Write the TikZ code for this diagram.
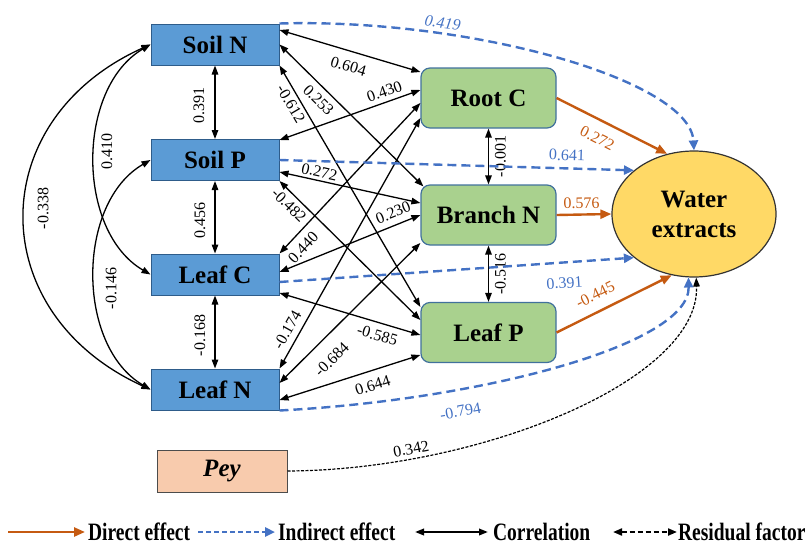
\documentclass[tikz,border=0pt]{standalone}
\usepackage{fontspec}
\setmainfont{Liberation Serif}
\usetikzlibrary{arrows.meta,shapes.geometric}

\definecolor{soilblue}{HTML}{5B9BD5}
\definecolor{soiledge}{HTML}{2E5C8A}
\definecolor{plantgreen}{HTML}{A9D18E}
\definecolor{plantedge}{HTML}{41719C}
\definecolor{wateryellow}{HTML}{FFD966}
\definecolor{peypeach}{HTML}{F8CBAD}
\definecolor{directorange}{HTML}{C55A11}
\definecolor{indirectblue}{HTML}{4472C4}

\tikzset{
  boxfont/.style={font=\fontsize{25}{30}\selectfont\bfseries},
  soilbox/.style={boxfont, draw=soiledge, line width=1pt, fill=soilblue,
    minimum width=128pt, minimum height=41pt, inner sep=0pt},
  plantbox/.style={boxfont, draw=plantedge, line width=1.2pt, fill=plantgreen,
    rounded corners=9pt, minimum width=135pt, minimum height=60pt, inner sep=0pt},
  waterbox/.style={boxfont, draw=black!80, line width=1.2pt, fill=wateryellow,
    ellipse, minimum width=164pt, minimum height=126pt, inner sep=0pt, align=center},
  peybox/.style={boxfont, draw=black!70, line width=1pt, fill=peypeach,
    minimum width=130pt, minimum height=42pt, inner sep=0pt},
  corr/.style={line width=1.3pt, {Triangle[length=9pt,width=6.5pt]}-{Triangle[length=9pt,width=6.5pt]}},
  direct/.style={draw=directorange, line width=2.4pt, -{Triangle[length=11pt,width=9pt]}},
  indirect/.style={draw=indirectblue, line width=2.4pt, dash pattern=on 9pt off 5pt,
    -{Triangle[length=10pt,width=9pt]}},
  resid/.style={line width=1.2pt, dash pattern=on 3pt off 1.5pt, -{Triangle[length=9pt,width=6.5pt]}},
  residleg/.style={line width=2pt, dash pattern=on 5pt off 3pt,
    {Triangle[length=9pt,width=7pt]}-{Triangle[length=9pt,width=7pt]}},
  num/.style={font=\fontsize{16}{16}\selectfont, inner sep=1pt, sloped},
  numv/.style={font=\fontsize{16}{16}\selectfont, inner sep=1pt},
  legtext/.style={font=\fontsize{25}{25}\selectfont\bfseries, inner sep=0pt,
    anchor=base west, xscale=0.78},
}

\begin{document}
\begin{tikzpicture}[x=1pt,y=-1pt]
\useasboundingbox (0,0) rectangle (809,544);

% soil and leaf stoichiometry boxes
\node[soilbox] (sn) at (215,44.5) {Soil N};
\node[soilbox] (sp) at (215,160) {Soil P};
\node[soilbox] (lc) at (215,274.5) {Leaf C};
\node[soilbox] (ln) at (215,389.5) {Leaf N};

% plant organ boxes
\node[plantbox] (rc) at (488.5,98) {Root C};
\node[plantbox] (bn) at (488.5,215) {Branch N};
\node[plantbox] (lp) at (488.5,332.5) {Leaf P};

% response
\node[waterbox] (we) at (694,214) {Water\\extracts};

% residual
\node[peybox] (pey) at (222,471) {\textit{Pey}};

% correlations among the left-hand variables
\draw[corr] (sn.south) -- (sp.north)
  node[numv, pos=0.55, xshift=-16pt, rotate=90] (c391) {0.391};
\draw[corr] (sp.south) -- (lc.north)
  node[numv, pos=0.55, xshift=-15pt, rotate=90] (c456) {0.456};
\draw[corr] (lc.south) -- (ln.north)
  node[numv, pos=0.55, xshift=-15pt, rotate=90] (c168) {-0.168};

\draw[corr] (sn.west) .. controls (76,88) and (76,231) .. (lc.west)
  node[numv, pos=0.47, xshift=12pt, rotate=90] (c410) {0.410};
\draw[corr] (sp.west) .. controls (76,203) and (76,346) .. (ln.west)
  node[numv, pos=0.55, xshift=16pt, rotate=90] (c146) {-0.146};
\draw[corr] (sn.west) .. controls (-17,120) and (-17,313) .. (ln.west)
  node[numv, pos=0.48, xshift=18pt, rotate=90] (c338) {-0.338};

% correlations between the left-hand variables and the plant organs
\draw[corr] ([yshift=14.5pt]sn.east) -- ([yshift=26pt]rc.west)
  node[num, pos=0.52, below=8pt] (c604) {0.604};
\draw[corr] (sn.east) -- ([xshift=3pt,yshift=-2pt]bn.north west)
  node[num, pos=0.33, below=5pt] (c253) {0.253};
\draw[corr] (sn.south east) -- ([yshift=25.5pt]lp.west)
  node[num, pos=0.14, below=2.5pt] (c612) {-0.612};

\draw[corr] ([yshift=20pt]sp.east) -- ([yshift=8pt]rc.west)
  node[num, pos=0.77, above=3.5pt] (c430) {0.430};
\draw[corr] ([yshift=-12pt]sp.east) -- ([yshift=12pt]bn.west)
  node[num, pos=0.27, above=1.5pt] (c272) {0.272};
\draw[corr] (sp.south east) -- ([yshift=12.5pt]lp.west)
  node[num, pos=0.12, below=3.5pt] (c482) {-0.482};

\draw[corr] (lc.north east) -- ([yshift=-5pt]rc.west)
  node[num, pos=0.10, below=6pt] (c440) {0.440};
\draw[corr] ([yshift=2.5pt]lc.east) -- (bn.west)
  node[num, pos=0.84, above=5.5pt] (c230) {0.230};
\draw[corr] ([yshift=-18.5pt]lc.east) -- ([yshift=-2.5pt]lp.west)
  node[num, pos=0.72, below=5.5pt] (c585) {-0.585};

\draw[corr] (ln.north east) -- ([yshift=-20pt]rc.west)
  node[num, pos=0.13, above=5pt] (c174) {-0.174};
\draw[corr] ([yshift=6.5pt]ln.east) -- ([yshift=-28pt]bn.west)
  node[num, pos=0.27, below=13pt] (c684) {-0.684};
\draw[corr] ([yshift=-10.5pt]ln.east) -- ([yshift=-22.5pt]lp.west)
  node[num, pos=0.63, below=7.5pt] (c644) {0.644};

% correlations among the plant organs
\draw[corr] (rc.south) -- (bn.north)
  node[numv, midway, xshift=12pt, rotate=90] (c001) {-0.001};
\draw[corr] (bn.south) -- (lp.north)
  node[numv, midway, xshift=12pt, rotate=90] (c516) {-0.516};

% direct effects
\draw[direct] (rc.east) -- (we.114.6)
  node[num, text=directorange, pos=0.44, below=10pt] (d272) {0.272};
\draw[direct] (bn.east) -- (we.west)
  node[num, text=directorange, pos=0.46, above=3.5pt] (d576) {0.576};
\draw[direct] (lp.east) -- (we.250)
  node[num, text=directorange, pos=0.40, above=9pt] (d445) {-0.445};

% indirect effects
\draw[indirect] (sn.north east) .. controls (470,18) and (690,80) .. (we.north)
  node[num, text=indirectblue, pos=0.28, above=3pt] (i419) {\itshape 0.419};
\draw[indirect] (sp.east) -- (we.144)
  node[num, text=indirectblue, pos=0.81, above=5.5pt] (i641) {0.641};
\draw[indirect] ([yshift=-7.5pt]lc.east) -- (we.216)
  node[num, text=indirectblue, pos=0.80, below=13pt] (i391) {0.391};
\draw[indirect] (ln.south east) .. controls (480,400) and (690,345) .. (we.265)
  node[num, text=indirectblue, pos=0.30, below=14pt] (i794) {-0.794};

% residual factor
\draw[resid] (pey.east) .. controls (480,470) and (700,380) .. (we.272)
  node[num, pos=0.215, above=3pt] (r342) {0.342};

% legend
\coordinate (ld0) at (8,532);
\node[legtext] (ldir) at (88,540) {Direct effect};
\draw[direct] (ld0) -- ([xshift=-3pt]ld0 -| ldir.west);

\coordinate (li0) at (198,532);
\node[legtext] (lind) at (278,540) {Indirect effect};
\draw[indirect, dash pattern=on 5pt off 3pt] (li0) -- ([xshift=-3pt]li0 -| lind.west);

\coordinate (lc0) at (415,532);
\node[legtext] (lcor) at (493,540) {Correlation};
\draw[corr, line width=2pt] (lc0) -- ([xshift=-5pt]lc0 -| lcor.west);

\coordinate (lr0) at (613,532);
\node[legtext] (lres) at (678,540) {Residual factor};
\draw[residleg] (lr0) -- ([xshift=-1pt]lr0 -| lres.west);
\end{tikzpicture}
\end{document}
